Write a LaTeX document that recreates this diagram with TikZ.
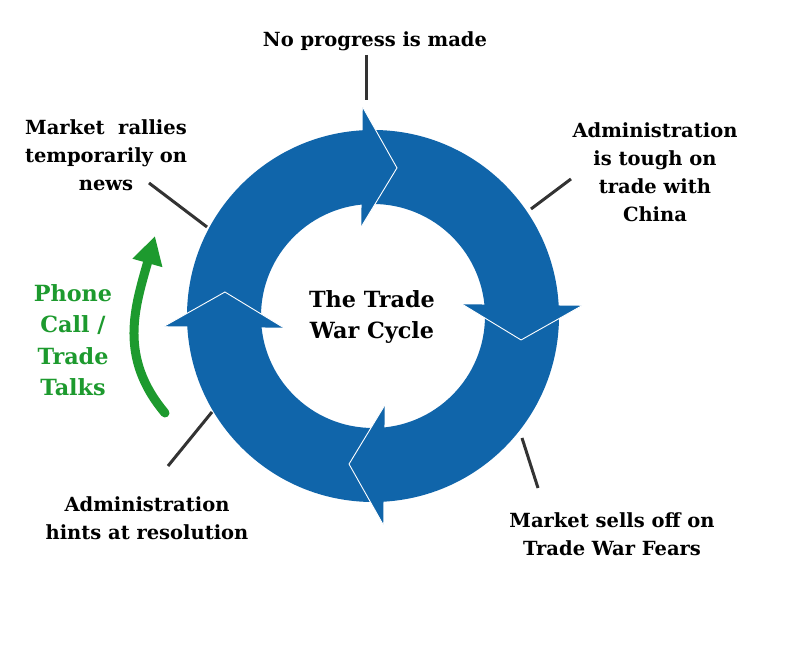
\documentclass[tikz,border=0pt]{standalone}
\usepackage{fontspec}
\setmainfont{DejaVu Serif}
\usetikzlibrary{arrows.meta}
\definecolor{ringblue}{RGB}{16,101,170}
\definecolor{talkgreen}{RGB}{29,154,46}
\definecolor{leadergray}{RGB}{51,51,51}
\begin{document}
\begin{tikzpicture}[x=1pt,y=1pt,
  lbl/.style={font=\bfseries\fontsize{19.5}{28}\selectfont, align=center, text=black, inner sep=0pt},
  bigl/.style={font=\bfseries\fontsize{22.3}{31.5}\selectfont, align=center, inner sep=0pt},
  leader/.style={draw=leadergray, line width=3pt},
  headedge/.style={draw=white, line width=0.9pt, line join=miter}]
\useasboundingbox[fill=white] (0,0) rectangle (801,647);
% ring
\coordinate (C) at (373,331);
\fill[ringblue, even odd rule] (C) circle[radius=186] (C) circle[radius=112];
\begin{scope}[shift={(373,331)}]
\foreach \c in {90,0,-90,180} {
  \fill[ringblue] ({\c+2.8}:209) -- ({\c-9.2}:150) -- ({\c+7.5}:90) -- cycle;
  \draw[headedge] ({\c+2.8}:209) -- ({\c-9.2}:150) -- ({\c+7.5}:90);
}
\end{scope}
% center text
\node[bigl, text=black] (title) at (372,330) {The Trade\\War Cycle};
% labels
\node[lbl] (noprog) at (375,606) {No progress is made};
\node[lbl] (tough) at (655,475) {Administration\\is tough on\\trade with\\China};
\node[lbl] (sells) at (612,113) {Market sells off on\\Trade War Fears};
\node[lbl] (hints) at (147,129) {Administration\\hints at resolution};
\node[lbl] (rallies) at (106,492) {Market\ \ rallies\\temporarily on\\news};
\node[bigl, text=talkgreen] (talks) at (73,307) {Phone\\Call /\\Trade\\Talks};
% leader lines
\coordinate (a1) at (366,592); \coordinate (a2) at (366,547);
\coordinate (b1) at (571,468); \coordinate (b2) at (531,438);
\coordinate (c1) at (538,159); \coordinate (c2) at (522,209);
\coordinate (d1) at (168,181); \coordinate (d2) at (212,235);
\coordinate (e1) at (149,464); \coordinate (e2) at (207,420);
\draw[leader] (a1) -- (a2);
\draw[leader] (b1) -- (b2);
\draw[leader] (c1) -- (c2);
\draw[leader] (d1) -- (d2);
\draw[leader] (e1) -- (e2);
% green arrow
\coordinate (g1) at (165,234);
\coordinate (g2) at (155,411);
\draw[talkgreen, line width=9pt, line cap=round, -{Triangle[width=29pt,length=28pt]}]
  (g1) .. controls (118,290) and (135,340) .. (g2);
\end{tikzpicture}
\end{document}
